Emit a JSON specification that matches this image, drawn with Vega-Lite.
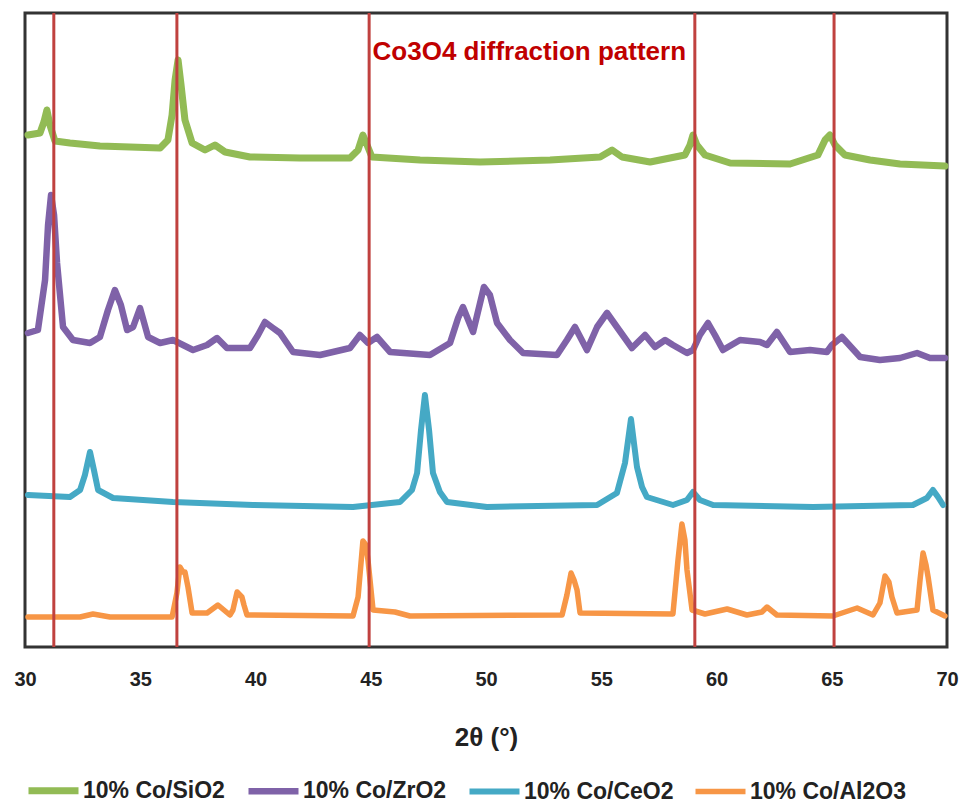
{
  "$schema": "https://vega.github.io/schema/vega-lite/v6.json",
  "width": 922,
  "height": 634,
  "autosize": "none",
  "padding": {"left": 25, "top": 13, "right": 19, "bottom": 156},
  "config": {
    "view": {"stroke": "#333333", "strokeWidth": 3},
    "font": "Liberation Sans"
  },
  "datasets": {
    "xrd": [
      {"sample": "10% Co/SiO2", "t": 30.13, "v": 512},
      {"sample": "10% Co/SiO2", "t": 30.65, "v": 514},
      {"sample": "10% Co/SiO2", "t": 30.82, "v": 525},
      {"sample": "10% Co/SiO2", "t": 30.95, "v": 537},
      {"sample": "10% Co/SiO2", "t": 31.08, "v": 522},
      {"sample": "10% Co/SiO2", "t": 31.30, "v": 506},
      {"sample": "10% Co/SiO2", "t": 31.95, "v": 504},
      {"sample": "10% Co/SiO2", "t": 33.25, "v": 501},
      {"sample": "10% Co/SiO2", "t": 34.56, "v": 500},
      {"sample": "10% Co/SiO2", "t": 35.86, "v": 499},
      {"sample": "10% Co/SiO2", "t": 36.20, "v": 507},
      {"sample": "10% Co/SiO2", "t": 36.38, "v": 532},
      {"sample": "10% Co/SiO2", "t": 36.51, "v": 567},
      {"sample": "10% Co/SiO2", "t": 36.64, "v": 587},
      {"sample": "10% Co/SiO2", "t": 36.77, "v": 562},
      {"sample": "10% Co/SiO2", "t": 36.94, "v": 527},
      {"sample": "10% Co/SiO2", "t": 37.25, "v": 504},
      {"sample": "10% Co/SiO2", "t": 37.81, "v": 497},
      {"sample": "10% Co/SiO2", "t": 38.24, "v": 502},
      {"sample": "10% Co/SiO2", "t": 38.68, "v": 495},
      {"sample": "10% Co/SiO2", "t": 39.76, "v": 490},
      {"sample": "10% Co/SiO2", "t": 41.93, "v": 489},
      {"sample": "10% Co/SiO2", "t": 44.10, "v": 489},
      {"sample": "10% Co/SiO2", "t": 44.45, "v": 497},
      {"sample": "10% Co/SiO2", "t": 44.66, "v": 512},
      {"sample": "10% Co/SiO2", "t": 44.84, "v": 502},
      {"sample": "10% Co/SiO2", "t": 45.05, "v": 490},
      {"sample": "10% Co/SiO2", "t": 47.14, "v": 487},
      {"sample": "10% Co/SiO2", "t": 49.74, "v": 485},
      {"sample": "10% Co/SiO2", "t": 52.78, "v": 487},
      {"sample": "10% Co/SiO2", "t": 54.95, "v": 490},
      {"sample": "10% Co/SiO2", "t": 55.47, "v": 497},
      {"sample": "10% Co/SiO2", "t": 55.90, "v": 490},
      {"sample": "10% Co/SiO2", "t": 57.12, "v": 485},
      {"sample": "10% Co/SiO2", "t": 58.63, "v": 492},
      {"sample": "10% Co/SiO2", "t": 58.85, "v": 502},
      {"sample": "10% Co/SiO2", "t": 58.98, "v": 512},
      {"sample": "10% Co/SiO2", "t": 59.15, "v": 502},
      {"sample": "10% Co/SiO2", "t": 59.50, "v": 492},
      {"sample": "10% Co/SiO2", "t": 60.59, "v": 484},
      {"sample": "10% Co/SiO2", "t": 63.19, "v": 483},
      {"sample": "10% Co/SiO2", "t": 64.40, "v": 492},
      {"sample": "10% Co/SiO2", "t": 64.71, "v": 507},
      {"sample": "10% Co/SiO2", "t": 64.92, "v": 512},
      {"sample": "10% Co/SiO2", "t": 65.14, "v": 502},
      {"sample": "10% Co/SiO2", "t": 65.57, "v": 492},
      {"sample": "10% Co/SiO2", "t": 66.66, "v": 487},
      {"sample": "10% Co/SiO2", "t": 67.96, "v": 483},
      {"sample": "10% Co/SiO2", "t": 69.91, "v": 481},

      {"sample": "10% Co/ZrO2", "t": 30.13, "v": 314},
      {"sample": "10% Co/ZrO2", "t": 30.56, "v": 317},
      {"sample": "10% Co/ZrO2", "t": 30.87, "v": 367},
      {"sample": "10% Co/ZrO2", "t": 31.00, "v": 422},
      {"sample": "10% Co/ZrO2", "t": 31.13, "v": 452},
      {"sample": "10% Co/ZrO2", "t": 31.26, "v": 432},
      {"sample": "10% Co/ZrO2", "t": 31.39, "v": 384},
      {"sample": "10% Co/ZrO2", "t": 31.65, "v": 320},
      {"sample": "10% Co/ZrO2", "t": 32.08, "v": 307},
      {"sample": "10% Co/ZrO2", "t": 32.82, "v": 304},
      {"sample": "10% Co/ZrO2", "t": 33.25, "v": 310},
      {"sample": "10% Co/ZrO2", "t": 33.60, "v": 337},
      {"sample": "10% Co/ZrO2", "t": 33.90, "v": 357},
      {"sample": "10% Co/ZrO2", "t": 34.16, "v": 342},
      {"sample": "10% Co/ZrO2", "t": 34.43, "v": 317},
      {"sample": "10% Co/ZrO2", "t": 34.69, "v": 320},
      {"sample": "10% Co/ZrO2", "t": 34.99, "v": 339},
      {"sample": "10% Co/ZrO2", "t": 35.34, "v": 310},
      {"sample": "10% Co/ZrO2", "t": 35.86, "v": 304},
      {"sample": "10% Co/ZrO2", "t": 36.42, "v": 307},
      {"sample": "10% Co/ZrO2", "t": 37.29, "v": 297},
      {"sample": "10% Co/ZrO2", "t": 37.90, "v": 302},
      {"sample": "10% Co/ZrO2", "t": 38.33, "v": 309},
      {"sample": "10% Co/ZrO2", "t": 38.76, "v": 299},
      {"sample": "10% Co/ZrO2", "t": 39.76, "v": 299},
      {"sample": "10% Co/ZrO2", "t": 40.11, "v": 312},
      {"sample": "10% Co/ZrO2", "t": 40.41, "v": 325},
      {"sample": "10% Co/ZrO2", "t": 40.76, "v": 319},
      {"sample": "10% Co/ZrO2", "t": 41.06, "v": 314},
      {"sample": "10% Co/ZrO2", "t": 41.63, "v": 295},
      {"sample": "10% Co/ZrO2", "t": 42.80, "v": 292},
      {"sample": "10% Co/ZrO2", "t": 44.10, "v": 299},
      {"sample": "10% Co/ZrO2", "t": 44.53, "v": 312},
      {"sample": "10% Co/ZrO2", "t": 44.88, "v": 304},
      {"sample": "10% Co/ZrO2", "t": 45.27, "v": 310},
      {"sample": "10% Co/ZrO2", "t": 45.84, "v": 295},
      {"sample": "10% Co/ZrO2", "t": 47.57, "v": 292},
      {"sample": "10% Co/ZrO2", "t": 48.44, "v": 304},
      {"sample": "10% Co/ZrO2", "t": 48.79, "v": 329},
      {"sample": "10% Co/ZrO2", "t": 49.00, "v": 340},
      {"sample": "10% Co/ZrO2", "t": 49.44, "v": 315},
      {"sample": "10% Co/ZrO2", "t": 49.91, "v": 360},
      {"sample": "10% Co/ZrO2", "t": 50.17, "v": 352},
      {"sample": "10% Co/ZrO2", "t": 50.48, "v": 324},
      {"sample": "10% Co/ZrO2", "t": 51.04, "v": 307},
      {"sample": "10% Co/ZrO2", "t": 51.61, "v": 294},
      {"sample": "10% Co/ZrO2", "t": 53.08, "v": 292},
      {"sample": "10% Co/ZrO2", "t": 53.51, "v": 307},
      {"sample": "10% Co/ZrO2", "t": 53.86, "v": 320},
      {"sample": "10% Co/ZrO2", "t": 54.38, "v": 297},
      {"sample": "10% Co/ZrO2", "t": 54.82, "v": 320},
      {"sample": "10% Co/ZrO2", "t": 55.25, "v": 334},
      {"sample": "10% Co/ZrO2", "t": 55.68, "v": 320},
      {"sample": "10% Co/ZrO2", "t": 56.33, "v": 299},
      {"sample": "10% Co/ZrO2", "t": 56.90, "v": 312},
      {"sample": "10% Co/ZrO2", "t": 57.33, "v": 300},
      {"sample": "10% Co/ZrO2", "t": 57.77, "v": 307},
      {"sample": "10% Co/ZrO2", "t": 58.11, "v": 302},
      {"sample": "10% Co/ZrO2", "t": 58.72, "v": 294},
      {"sample": "10% Co/ZrO2", "t": 58.98, "v": 297},
      {"sample": "10% Co/ZrO2", "t": 59.28, "v": 312},
      {"sample": "10% Co/ZrO2", "t": 59.63, "v": 324},
      {"sample": "10% Co/ZrO2", "t": 59.93, "v": 312},
      {"sample": "10% Co/ZrO2", "t": 60.28, "v": 297},
      {"sample": "10% Co/ZrO2", "t": 61.02, "v": 307},
      {"sample": "10% Co/ZrO2", "t": 61.89, "v": 305},
      {"sample": "10% Co/ZrO2", "t": 62.19, "v": 302},
      {"sample": "10% Co/ZrO2", "t": 62.62, "v": 315},
      {"sample": "10% Co/ZrO2", "t": 63.19, "v": 295},
      {"sample": "10% Co/ZrO2", "t": 64.06, "v": 297},
      {"sample": "10% Co/ZrO2", "t": 64.79, "v": 295},
      {"sample": "10% Co/ZrO2", "t": 65.01, "v": 302},
      {"sample": "10% Co/ZrO2", "t": 65.44, "v": 310},
      {"sample": "10% Co/ZrO2", "t": 66.23, "v": 290},
      {"sample": "10% Co/ZrO2", "t": 67.09, "v": 287},
      {"sample": "10% Co/ZrO2", "t": 67.96, "v": 289},
      {"sample": "10% Co/ZrO2", "t": 68.70, "v": 294},
      {"sample": "10% Co/ZrO2", "t": 69.26, "v": 289},
      {"sample": "10% Co/ZrO2", "t": 69.91, "v": 289},

      {"sample": "10% Co/CeO2", "t": 30.13, "v": 152},
      {"sample": "10% Co/CeO2", "t": 31.95, "v": 150},
      {"sample": "10% Co/CeO2", "t": 32.39, "v": 157},
      {"sample": "10% Co/CeO2", "t": 32.60, "v": 172},
      {"sample": "10% Co/CeO2", "t": 32.82, "v": 195},
      {"sample": "10% Co/CeO2", "t": 32.99, "v": 177},
      {"sample": "10% Co/CeO2", "t": 33.17, "v": 157},
      {"sample": "10% Co/CeO2", "t": 33.82, "v": 149},
      {"sample": "10% Co/CeO2", "t": 36.42, "v": 145},
      {"sample": "10% Co/CeO2", "t": 39.89, "v": 142},
      {"sample": "10% Co/CeO2", "t": 44.23, "v": 140},
      {"sample": "10% Co/CeO2", "t": 46.27, "v": 145},
      {"sample": "10% Co/CeO2", "t": 46.79, "v": 157},
      {"sample": "10% Co/CeO2", "t": 47.01, "v": 174},
      {"sample": "10% Co/CeO2", "t": 47.18, "v": 217},
      {"sample": "10% Co/CeO2", "t": 47.35, "v": 252},
      {"sample": "10% Co/CeO2", "t": 47.53, "v": 217},
      {"sample": "10% Co/CeO2", "t": 47.70, "v": 174},
      {"sample": "10% Co/CeO2", "t": 48.00, "v": 155},
      {"sample": "10% Co/CeO2", "t": 48.31, "v": 145},
      {"sample": "10% Co/CeO2", "t": 50.04, "v": 140},
      {"sample": "10% Co/CeO2", "t": 54.82, "v": 142},
      {"sample": "10% Co/CeO2", "t": 55.68, "v": 154},
      {"sample": "10% Co/CeO2", "t": 56.03, "v": 184},
      {"sample": "10% Co/CeO2", "t": 56.29, "v": 228},
      {"sample": "10% Co/CeO2", "t": 56.55, "v": 180},
      {"sample": "10% Co/CeO2", "t": 56.77, "v": 160},
      {"sample": "10% Co/CeO2", "t": 56.98, "v": 150},
      {"sample": "10% Co/CeO2", "t": 58.11, "v": 142},
      {"sample": "10% Co/CeO2", "t": 58.72, "v": 147},
      {"sample": "10% Co/CeO2", "t": 58.98, "v": 155},
      {"sample": "10% Co/CeO2", "t": 59.28, "v": 147},
      {"sample": "10% Co/CeO2", "t": 59.85, "v": 142},
      {"sample": "10% Co/CeO2", "t": 64.19, "v": 140},
      {"sample": "10% Co/CeO2", "t": 68.52, "v": 142},
      {"sample": "10% Co/CeO2", "t": 69.13, "v": 149},
      {"sample": "10% Co/CeO2", "t": 69.39, "v": 157},
      {"sample": "10% Co/CeO2", "t": 69.61, "v": 150},
      {"sample": "10% Co/CeO2", "t": 69.83, "v": 142},

      {"sample": "10% Co/Al2O3", "t": 30.13, "v": 30},
      {"sample": "10% Co/Al2O3", "t": 32.39, "v": 30},
      {"sample": "10% Co/Al2O3", "t": 32.95, "v": 33},
      {"sample": "10% Co/Al2O3", "t": 33.69, "v": 30},
      {"sample": "10% Co/Al2O3", "t": 36.38, "v": 30},
      {"sample": "10% Co/Al2O3", "t": 36.59, "v": 54},
      {"sample": "10% Co/Al2O3", "t": 36.72, "v": 80},
      {"sample": "10% Co/Al2O3", "t": 36.85, "v": 75},
      {"sample": "10% Co/Al2O3", "t": 36.94, "v": 75},
      {"sample": "10% Co/Al2O3", "t": 37.07, "v": 60},
      {"sample": "10% Co/Al2O3", "t": 37.25, "v": 34},
      {"sample": "10% Co/Al2O3", "t": 37.90, "v": 34},
      {"sample": "10% Co/Al2O3", "t": 38.37, "v": 42},
      {"sample": "10% Co/Al2O3", "t": 38.89, "v": 32},
      {"sample": "10% Co/Al2O3", "t": 39.02, "v": 37},
      {"sample": "10% Co/Al2O3", "t": 39.20, "v": 55},
      {"sample": "10% Co/Al2O3", "t": 39.41, "v": 50},
      {"sample": "10% Co/Al2O3", "t": 39.50, "v": 42},
      {"sample": "10% Co/Al2O3", "t": 39.63, "v": 32},
      {"sample": "10% Co/Al2O3", "t": 44.23, "v": 31},
      {"sample": "10% Co/Al2O3", "t": 44.45, "v": 50},
      {"sample": "10% Co/Al2O3", "t": 44.66, "v": 106},
      {"sample": "10% Co/Al2O3", "t": 44.79, "v": 102},
      {"sample": "10% Co/Al2O3", "t": 44.88, "v": 87},
      {"sample": "10% Co/Al2O3", "t": 45.10, "v": 37},
      {"sample": "10% Co/Al2O3", "t": 46.05, "v": 35},
      {"sample": "10% Co/Al2O3", "t": 46.70, "v": 31},
      {"sample": "10% Co/Al2O3", "t": 53.30, "v": 32},
      {"sample": "10% Co/Al2O3", "t": 53.51, "v": 52},
      {"sample": "10% Co/Al2O3", "t": 53.69, "v": 74},
      {"sample": "10% Co/Al2O3", "t": 53.82, "v": 67},
      {"sample": "10% Co/Al2O3", "t": 53.95, "v": 57},
      {"sample": "10% Co/Al2O3", "t": 54.08, "v": 34},
      {"sample": "10% Co/Al2O3", "t": 58.11, "v": 33},
      {"sample": "10% Co/Al2O3", "t": 58.33, "v": 87},
      {"sample": "10% Co/Al2O3", "t": 58.50, "v": 123},
      {"sample": "10% Co/Al2O3", "t": 58.63, "v": 107},
      {"sample": "10% Co/Al2O3", "t": 58.72, "v": 77},
      {"sample": "10% Co/Al2O3", "t": 58.94, "v": 37},
      {"sample": "10% Co/Al2O3", "t": 59.50, "v": 33},
      {"sample": "10% Co/Al2O3", "t": 60.46, "v": 38},
      {"sample": "10% Co/Al2O3", "t": 61.32, "v": 32},
      {"sample": "10% Co/Al2O3", "t": 61.97, "v": 35},
      {"sample": "10% Co/Al2O3", "t": 62.19, "v": 40},
      {"sample": "10% Co/Al2O3", "t": 62.62, "v": 32},
      {"sample": "10% Co/Al2O3", "t": 65.05, "v": 31},
      {"sample": "10% Co/Al2O3", "t": 66.10, "v": 39},
      {"sample": "10% Co/Al2O3", "t": 66.79, "v": 32},
      {"sample": "10% Co/Al2O3", "t": 67.09, "v": 44},
      {"sample": "10% Co/Al2O3", "t": 67.31, "v": 71},
      {"sample": "10% Co/Al2O3", "t": 67.48, "v": 65},
      {"sample": "10% Co/Al2O3", "t": 67.61, "v": 50},
      {"sample": "10% Co/Al2O3", "t": 67.83, "v": 34},
      {"sample": "10% Co/Al2O3", "t": 68.70, "v": 37},
      {"sample": "10% Co/Al2O3", "t": 68.83, "v": 67},
      {"sample": "10% Co/Al2O3", "t": 68.96, "v": 94},
      {"sample": "10% Co/Al2O3", "t": 69.09, "v": 82},
      {"sample": "10% Co/Al2O3", "t": 69.18, "v": 70},
      {"sample": "10% Co/Al2O3", "t": 69.39, "v": 37},
      {"sample": "10% Co/Al2O3", "t": 69.91, "v": 31}
    ],
    "peaks": [
      {"t": 31.25},
      {"t": 36.59},
      {"t": 44.93},
      {"t": 59.06},
      {"t": 65.10}
    ],
    "note": [
      {"label": "Co3O4 diffraction pattern", "t": 45.08, "v": 595}
    ]
  },
  "layer": [
    {
      "data": {"name": "xrd"},
      "mark": {"type": "line", "strokeJoin": "round", "strokeCap": "round"},
      "encoding": {
        "x": {
          "field": "t",
          "type": "quantitative",
          "scale": {"domain": [30, 70], "nice": false, "zero": false},
          "title": "2θ (°)",
          "axis": {
            "values": [30, 35, 40, 45, 50, 55, 60, 65, 70],
            "ticks": false,
            "tickSize": 0,
            "domain": false,
            "grid": false,
            "labelFlush": false,
            "labelFont": "Liberation Sans",
            "labelFontSize": 20,
            "labelFontWeight": "bold",
            "labelColor": "#222222",
            "labelPadding": 22,
            "titleFont": "Liberation Sans",
            "titleFontSize": 26,
            "titleFontWeight": "bold",
            "titleColor": "#222222",
            "titlePadding": 35
          }
        },
        "y": {
          "field": "v",
          "type": "quantitative",
          "scale": {"domain": [0, 634], "nice": false},
          "axis": null
        },
        "color": {
          "field": "sample",
          "type": "nominal",
          "scale": {
            "domain": ["10% Co/SiO2", "10% Co/ZrO2", "10% Co/CeO2", "10% Co/Al2O3"],
            "range": ["#92BB55", "#7F62A8", "#45A9C5", "#F79646"]
          },
          "legend": {
            "orient": "none",
            "legendX": 0,
            "legendY": 749,
            "direction": "horizontal",
            "columns": 4,
            "title": null,
            "symbolType": "stroke",
            "symbolSize": 2500,
            "symbolStrokeWidth": 5,
            "labelFont": "Liberation Sans",
            "labelFontSize": 23,
            "labelFontWeight": "bold",
            "labelColor": "#222222",
            "labelOffset": 1,
            "labelLimit": 400,
            "columnPadding": 10
          }
        },
        "strokeWidth": {
          "field": "sample",
          "type": "nominal",
          "scale": {
            "domain": ["10% Co/SiO2", "10% Co/ZrO2", "10% Co/CeO2", "10% Co/Al2O3"],
            "range": [7, 5.5, 4.5, 4]
          },
          "legend": null
        }
      }
    },
    {
      "data": {"name": "peaks"},
      "mark": {"type": "rule", "color": "#C0413F", "strokeWidth": 3},
      "encoding": {
        "x": {"field": "t", "type": "quantitative"}
      }
    },
    {
      "data": {"name": "note"},
      "mark": {
        "type": "text",
        "align": "left",
        "baseline": "middle",
        "font": "Liberation Sans",
        "fontSize": 26,
        "fontWeight": "bold",
        "color": "#C00000"
      },
      "encoding": {
        "x": {"field": "t", "type": "quantitative"},
        "y": {"field": "v", "type": "quantitative"},
        "text": {"field": "label"}
      }
    }
  ]
}
